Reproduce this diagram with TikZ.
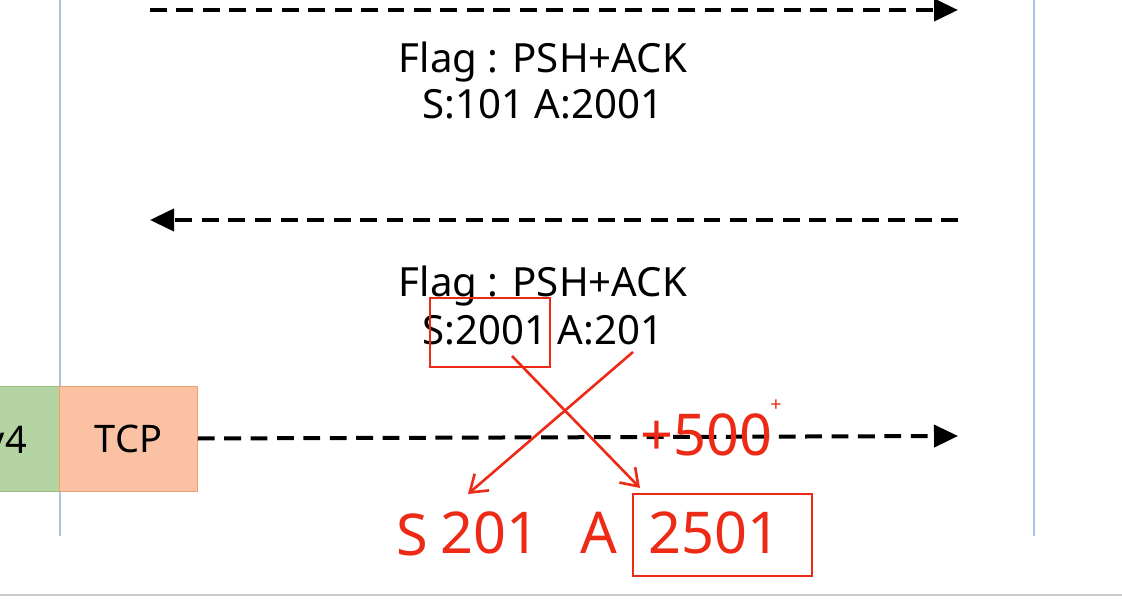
\documentclass[tikz,border=0pt]{standalone}
\usepackage{fontspec}
\setmainfont{Noto Sans}
\usetikzlibrary{arrows.meta,positioning}
\definecolor{lane}{RGB}{169,196,224}
\definecolor{ipgreen}{RGB}{181,212,164}
\definecolor{ipgreenline}{RGB}{150,190,130}
\definecolor{tcporange}{RGB}{250,193,162}
\definecolor{tcpline}{RGB}{240,160,112}
\definecolor{penred}{RGB}{236,42,22}
\begin{document}
\begin{tikzpicture}[x=0.025cm,y=-0.025cm,
  every node/.style={font=\fontsize{27}{32}\selectfont},
  msg/.style={anchor=base,inner sep=0pt,font=\fontsize{28.6}{32}\selectfont},
  flow/.style={line width=0.1cm,dash pattern=on 0.42cm off 0.24cm,-{Triangle[length=0.6cm,width=0.55cm]}},
  hdr/.style={minimum width=3.45cm,minimum height=2.62cm,inner sep=0pt},
  pen/.style={draw=penred,line width=0.065cm},
  penarrow/.style={penred,line width=0.065cm,-{Straight Barb[length=0.4cm,width=0.55cm]}},
  ink/.style={text=penred,font=\fontsize{41}{46}\selectfont,inner sep=0pt,anchor=base west}]
\useasboundingbox (0,0) rectangle (1122,602);
\clip (0,0) rectangle (1122,602);
\fill[white] (0,0) rectangle (1122,602);
% lanes
\draw[lane,line width=0.04cm] (60,0) -- (60,536);
\draw[lane,line width=0.04cm] (1034,0) -- (1034,536);
\draw[black!20,line width=0.05cm] (0,595) -- (1122,595);
% end points
\coordinate (c2s) at (150,10);
\coordinate (c2e) at (958,10);
\coordinate (s2c) at (958,220);
\coordinate (s2e) at (150,220);
\coordinate (c3e) at (958,436);
% messages
\node[msg] (flag1) at (543,73) {Flag : PSH+ACK};
\node[msg] (seq1) at (543,119) {S:101 A:2001};
\node[msg] (flag2) at (543,297) {Flag : PSH+ACK};
\node[msg] (seq2) at (543,344) {S:2001 A:201};
\node[hdr,fill=ipgreen,draw=ipgreenline] (ip) at (-10,438.5) {};
\node[anchor=base east,inner sep=0pt] (iplbl) at (27,453) {IPv4};
\node[hdr,fill=tcporange,draw=tcpline] (tcp) at (128.5,438.5) {TCP};
\draw[flow] (c2s) -- (c2e);
\draw[flow] (s2c) -- (s2e);
\draw[flow] (tcp.east) -- (c3e);
% red notes
\node[pen,minimum width=3cm,minimum height=1.72cm] (boxa) at (490,332.5) {};
\node[ink] (plus) at (640,455) {+500};
\node[text=penred,font=\fontsize{14}{14}\selectfont,inner sep=0pt] (plus2) at (776,406) {+};
\node[ink] (sl) at (396,555) {S};
\node[ink] (sv) at (440,553) {201};
\node[ink] (al) at (580,553) {A};
\node[ink] (av) at (648,553) {2501};
\node[pen,minimum width=4.47cm,minimum height=2.05cm] (boxb) at (722.5,535) {};
\coordinate (sfrom) at (512,356);
\coordinate (afrom) at (633,352);
\coordinate (sto) at (640,488);
\coordinate (ato) at (468,494);
\draw[penarrow] (sfrom) -- (sto);
\draw[penarrow] (afrom) -- (ato);
\end{tikzpicture}
\end{document}
